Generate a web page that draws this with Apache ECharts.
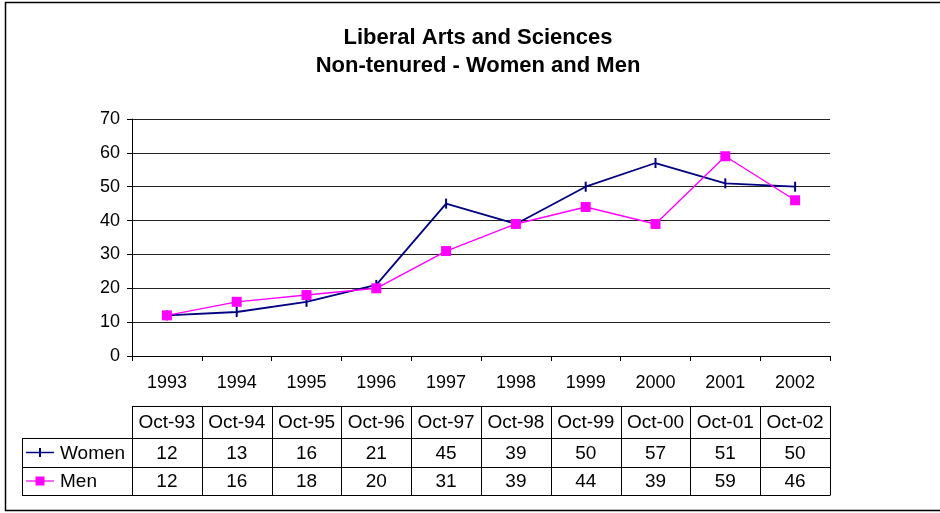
<!DOCTYPE html>
<html>
<head>
<meta charset="utf-8">
<script src="https://cdn.jsdelivr.net/npm/echarts@6/dist/echarts.min.js"></script>
<style>
html,body{margin:0;padding:0;background:#fff;}
#c{width:940px;height:513px;}
</style>
</head>
<body>
<div id="c"></div>
<script>
const titleLines = ['Liberal Arts and Sciences', 'Non-tenured - Women and Men'];
const years = ['1993','1994','1995','1996','1997','1998','1999','2000','2001','2002'];
const tableHeaders = ['Oct-93','Oct-94','Oct-95','Oct-96','Oct-97','Oct-98','Oct-99','Oct-00','Oct-01','Oct-02'];
const seriesNames = ['Women', 'Men'];
const women = [12,13,16,21,45,39,50,57,51,50];
const men = [12,16,18,20,31,39,44,39,59,46];
const yTicks = [0,10,20,30,40,50,60,70];

const FONT = '"Liberation Sans", Arial, sans-serif';
const NAVY = '#000080';
const MAGENTA = '#FF00FF';

const chart = echarts.init(document.getElementById('c'), null, {renderer: 'canvas'});

chart.setOption({
  animation: false,
  backgroundColor: '#fff',
  title: {
    text: titleLines.join('\n'),
    left: 473,
    textAlign: 'center',
    top: 19,
    textStyle: {fontFamily: FONT, fontSize: 22, fontWeight: 'bold', color: '#000', lineHeight: 28}
  },
  grid: {left: 132, right: 110, top: 119, bottom: 157, containLabel: false},
  xAxis: {
    type: 'category',
    data: years,
    boundaryGap: true,
    axisLine: {lineStyle: {color: '#000', width: 1}},
    axisTick: {show: true, length: 5, inside: false, alignWithLabel: false, interval: 0, lineStyle: {color: '#000'}},
    axisLabel: {fontFamily: FONT, fontSize: 18, color: '#000', margin: 18, interval: 0},
    splitLine: {show: false}
  },
  yAxis: {
    type: 'value',
    min: yTicks[0],
    max: yTicks[yTicks.length - 1],
    interval: 10,
    axisLine: {show: true, lineStyle: {color: '#000', width: 1}},
    axisTick: {show: true, length: 5, lineStyle: {color: '#000'}},
    axisLabel: {fontFamily: FONT, fontSize: 18, color: '#000', margin: 12},
    splitLine: {show: true, lineStyle: {color: '#222', width: 1}}
  },
  series: [
    {
      name: seriesNames[0],
      type: 'line',
      data: women,
      symbol: 'rect',
      symbolSize: [2, 10],
      lineStyle: {color: NAVY, width: 1.8},
      itemStyle: {color: NAVY},
      z: 3
    },
    {
      name: seriesNames[1],
      type: 'line',
      data: men,
      symbol: 'rect',
      symbolSize: 10,
      lineStyle: {color: MAGENTA, width: 1.4},
      itemStyle: {color: MAGENTA},
      z: 4
    }
  ]
});

// Build data table beneath the axis from the arrays, positioned by the category axis
const c0 = chart.convertToPixel({xAxisIndex: 0}, 0);
const c1 = chart.convertToPixel({xAxisIndex: 0}, 1);
const bw = c1 - c0;
const left0 = c0 - bw / 2;
const rightN = left0 + bw * years.length;
const labelLeft = 22;
const rowY = [406, 438, 467, 495];
const g = [];
const stroke = {stroke: '#000', lineWidth: 1};

// outer border
g.push({type: 'rect', shape: {x: 5.5, y: 2.5, width: 940, height: 508}, style: {fill: null, stroke: '#000', lineWidth: 1.5}, silent: true});

// horizontal lines
g.push({type: 'line', shape: {x1: left0, y1: rowY[0] + 0.5, x2: rightN, y2: rowY[0] + 0.5}, style: stroke});
for (let r = 1; r < rowY.length; r++) {
  g.push({type: 'line', shape: {x1: labelLeft, y1: rowY[r] + 0.5, x2: rightN, y2: rowY[r] + 0.5}, style: stroke});
}
// vertical lines
g.push({type: 'line', shape: {x1: labelLeft + 0.5, y1: rowY[1], x2: labelLeft + 0.5, y2: rowY[3] + 0.5}, style: stroke});
for (let i = 0; i <= years.length; i++) {
  const x = Math.round(left0 + bw * i) + 0.5;
  g.push({type: 'line', shape: {x1: x, y1: rowY[0], x2: x, y2: rowY[3] + 0.5}, style: stroke});
}
// cell text
const rows = [tableHeaders, women, men];
for (let r = 0; r < rows.length; r++) {
  const cy = (rowY[r] + rowY[r + 1]) / 2 + 1;
  rows[r].forEach(function (v, i) {
    const cx = chart.convertToPixel({xAxisIndex: 0}, i);
    g.push({type: 'text', x: cx, y: cy, style: {text: String(v), fontFamily: FONT, fontSize: 19, fill: '#000', align: 'center', verticalAlign: 'middle'}});
  });
}
// legend keys
const keyY = [(rowY[1] + rowY[2]) / 2, (rowY[2] + rowY[3]) / 2];
g.push({type: 'line', shape: {x1: 26, y1: keyY[0], x2: 54, y2: keyY[0]}, style: {stroke: NAVY, lineWidth: 1.5}});
g.push({type: 'rect', shape: {x: 39, y: keyY[0] - 4.5, width: 2, height: 9}, style: {fill: NAVY}});
g.push({type: 'line', shape: {x1: 26, y1: keyY[1], x2: 54, y2: keyY[1]}, style: {stroke: MAGENTA, lineWidth: 1.2}});
g.push({type: 'rect', shape: {x: 35.5, y: keyY[1] - 4.5, width: 9, height: 9}, style: {fill: MAGENTA}});
seriesNames.forEach(function (n, k) {
  g.push({type: 'text', x: 60, y: keyY[k] + 1, style: {text: n, fontFamily: FONT, fontSize: 19, fill: '#000', align: 'left', verticalAlign: 'middle'}});
});

chart.setOption({graphic: g});
</script>
</body>
</html>
